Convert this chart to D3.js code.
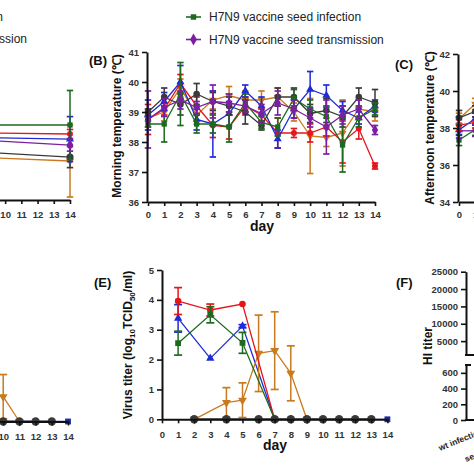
<!DOCTYPE html>
<html><head><meta charset="utf-8">
<script src="https://cdn.jsdelivr.net/npm/d3@7"></script>
<style>
html,body{margin:0;padding:0;background:#fff;}
svg{display:block;font-family:"Liberation Sans",Arial,sans-serif;}
</style></head><body>
<svg id="c" width="474" height="474"></svg>
<script>
// ---------- DATA ----------
const days = d3.range(0, 15);
const legendRight = ["H7N9 vaccine seed infection", "H7N9 vaccine seed transmission"];
const legendLeft = ["wt H7N9 infection", "wt H7N9 transmission"];
const yTicksB = [36, 37, 38, 39, 40, 41];
const yTicksC = [34, 36, 38, 40, 42];
const yTicksE = [0, 1, 2, 3, 4, 5];
const yTicksFTop = [5000, 10000, 15000, 20000, 25000];
const yTicksFBot = [0, 200, 400, 600];
const fCategories = ["wt infection", "seed infection"];

// Panel A (only days up to 14 visible)
const aDays = [7, 14];
const aGreen = [38.5, 38.5], aGreenSd = [0, 1.15];
const aRed = [38.25, 38.2], aRedSd = [0, 0.15];
const aBlue = [38.1, 38.03], aBlueSd = [0, 0.75];
const aPurple = [38.05, 37.83], aPurpleSd = [0, 0.2];
const aBlack = [37.65, 37.43], aBlackSd = [0, 0.35];
const aBrown = [37.46, 37.3], aBrownSd = [0, 1.2];

// Panel B morning temperature
const bBlack  = [39.0, 39.5, 39.25, 39.6, 39.35, 39.2, 39.0, 38.55, 39.5, 39.5, 38.95, 39.05, 38.85, 39.5, 39.3];
const bBlackSd= [0.1, 0.3, 0.35, 0.35, 0.3, 0.3, 0.4, 0.15, 0.3, 0.3, 0.3, 0.4, 0.35, 0.3, 0.45];
const bBlue   = [38.9, 39.35, 40.0, 38.75, 38.6, 38.95, 39.7, 39.2, 38.1, 39.1, 39.75, 39.55, 39.05, 38.8, 39.2];
const bBlueSd = [0.5, 0.3, 0.55, 0.35, 1.1, 0.4, 0.2, 0.3, 0.3, 0.3, 0.6, 0.35, 0.3, 0.2, 0.2];
const bRed    = [38.75, 39.1, 39.95, 39.2, 38.55, 38.5, 39.2, 38.9, 38.3, 38.3, 38.3, 38.5, 38.0, 38.45, 37.2];
const bRedSd  = [0.5, 0.2, 0.3, 0.3, 0.4, 0.4, 0.3, 0.2, 0.5, 0.15, 0.3, 0.3, 0.7, 0.35, 0.1];
const bGreen  = [38.6, 38.6, 39.6, 38.6, 38.6, 38.5, 39.3, 38.65, 38.5, 39.45, 39.1, 38.85, 37.9, 38.8, 39.1];
const bGreenSd= [0.1, 0.6, 1.05, 0.3, 0.3, 0.5, 0.3, 0.2, 0.3, 0.3, 0.3, 0.3, 0.9, 0.3, 0.2];
const bPurple = [38.75, 39.15, 39.4, 39.15, 39.35, 39.3, 39.2, 38.95, 39.3, 39.1, 38.8, 38.5, 38.9, 39.1, 38.4];
const bPurpleSd=[0.95, 0.3, 0.3, 0.2, 0.55, 0.3, 0.2, 0.3, 0.4, 0.3, 0.3, 0.9, 0.3, 0.3, 0.15];
const bBrown  = [38.8, 39.0, 39.8, 38.9, 39.4, 39.55, 39.4, 39.4, 39.5, 39.0, 38.2, 38.15, 38.3, 39.1, 39.0];
const bBrownSd= [0.3, 0.3, 0.3, 0.3, 0.3, 0.3, 0.3, 0.3, 0.3, 0.3, 1.25, 0.3, 1.1, 0.3, 0.3];

// Panel C afternoon temperature (only day 0 visible)
const cDays = [0, 1];
const cBlack = [38.55, 38.9], cBlackSd = [0.4, 0.3];
const cBrown = [38.5, 39.3], cBrownSd = [0.3, 0.3];
const cRed = [38.15, 38.3], cRedSd = [0.3, 0.3];
const cBlue = [37.9, 38.5], cBlueSd = [0.3, 0.3];
const cPurple = [37.85, 37.85], cPurpleSd = [0.4, 0.3];
const cGreen = [37.35, 37.9], cGreenSd = [0.3, 0.3];

// Panel D virus titer (left, only days 10-14 visible)
const dBrownDays = [10, 11], dBrown = [0.83, 0], dBrownSd = [0.74, 0];
const dBlackDays = [8, 9, 10, 11, 12, 13], dBlack = [0, 0, 0, 0, 0, 0];
const dBlueDays = [7, 14], dBlue = [0, 0];

// Panel E virus titer
const eRedDays = [1, 3, 5, 7], eRed = [3.96, 3.66, 3.86, 0], eRedSd = [0.45, 0.2, 0, 0];
const eBlueDays = [1, 3, 5, 7, 14], eBlue = [3.38, 2.04, 3.12, 0, 0], eBlueSd = [0.46, 0, 0.05, 0, 0];
const eGreenDays = [1, 3, 5, 7], eGreen = [2.55, 3.5, 2.56, 0], eGreenSd = [0.4, 0.27, 0.35, 0];
const eBrownDays = [2, 4, 5, 6, 7, 8, 9], eBrown = [0, 0.56, 0.64, 2.21, 2.3, 1.54, 0], eBrownSd = [0, 0.5, 0.58, 1.28, 1.3, 0.92, 0];
const eBlackDays = [2, 4, 6, 7, 8, 9, 10, 11, 12, 13], eBlack = [0, 0, 0, 0, 0, 0, 0, 0, 0, 0];

// ---------- STYLE ----------
const COL = {black:"#3a3a3a", blue:"#1f2bd8", red:"#e3161c", green:"#1d6a1f", purple:"#7b1ea2", brown:"#c97a1e", navy:"#1a2a9a"};
const SHAPE = {black:d3.symbolCircle, red:d3.symbolCircle, blue:d3.symbolTriangle, green:d3.symbolSquare, purple:d3.symbolDiamond, brown:"down", navy:d3.symbolSquare};

const svg = d3.select("#c");

function series(g, x, y, ds, vals, sds, key, opt={}) {
  const col = COL[key];
  const size = opt.size || 28, lw = opt.lw || 1.3, cap = opt.cap || 3.2;
  const gg = g.append("g");
  const pts = ds.map((d,i)=>({d, v: vals[i], s: sds ? sds[i] : 0}));
  pts.filter(p=>p.s>0).forEach(p=>{
    gg.append("line").attr("x1",x(p.d)).attr("x2",x(p.d)).attr("y1",y(p.v-p.s)).attr("y2",y(p.v+p.s))
      .attr("stroke",col).attr("stroke-width",1.5);
    [p.v-p.s,p.v+p.s].forEach(e=>gg.append("line").attr("x1",x(p.d)-cap).attr("x2",x(p.d)+cap)
      .attr("y1",y(e)).attr("y2",y(e)).attr("stroke",col).attr("stroke-width",1.7));
  });
  gg.append("path").datum(pts).attr("fill","none").attr("stroke",col).attr("stroke-width",lw)
    .attr("d", d3.line().x(p=>x(p.d)).y(p=>y(p.v)));
  if (opt.noMarker) return;
  const sh = SHAPE[key];
  pts.filter(p=>!(opt.markDays) || opt.markDays.includes(p.d)).forEach(p=>{
    const s = sh==="down" ? d3.symbolTriangle : sh;
    gg.append("path").attr("d", d3.symbol(s, size)())
      .attr("transform",`translate(${x(p.d)},${y(p.v)})${sh==="down"?" rotate(180)":""}`)
      .attr("fill",col);
  });
}

function styleAxis(g) {
  g.select(".domain").attr("stroke","#111").attr("stroke-width",2);
  g.selectAll(".tick line").attr("stroke","#111").attr("stroke-width",1.6);
  g.selectAll(".tick text").attr("fill","#333").attr("font-weight","bold").attr("font-size","9.5px")
    .attr("font-family","'Liberation Sans',Arial,sans-serif");
}
function xAxis(x, yPos, pad) {
  const g = svg.append("g").attr("transform",`translate(0,${yPos})`)
    .call(d3.axisBottom(x).tickValues(days).tickSize(4).tickSizeOuter(0).tickPadding(pad||5));
  styleAxis(g); return g;
}
function yAxis(y, xPos, ticks, fmt) {
  const g = svg.append("g").attr("transform",`translate(${xPos},0)`)
    .call(d3.axisLeft(y).tickValues(ticks).tickSize(5).tickSizeOuter(0).tickPadding(3).tickFormat(fmt||d3.format("d")));
  styleAxis(g); return g;
}
function yTitle(txt, cx, cy, size) {
  return svg.append("text").attr("transform",`translate(${cx},${cy}) rotate(-90)`)
    .attr("text-anchor","middle").attr("font-weight","bold").attr("font-size",(size||12)+"px")
    .attr("fill","#111").text(txt);
}
function panelLabel(txt, x, y) {
  svg.append("text").attr("x",x).attr("y",y).attr("font-weight","bold").attr("font-size","13px")
    .attr("fill","#111").text(txt);
}

// ---------- LEGEND ----------
legendLeft.forEach((t,i)=>{
  svg.append("text").attr("x", i===0 ? 3 : 27).attr("y", 21 + i*22).attr("text-anchor","end")
    .attr("font-size","12px").attr("fill","#222").text(t);
});
const legKeys = ["green","purple"];
legendRight.forEach((t,i)=>{
  const yy = 17 + i*22.5;
  svg.append("line").attr("x1",186).attr("x2",201).attr("y1",yy).attr("y2",yy)
    .attr("stroke",COL[legKeys[i]]).attr("stroke-width",1.6);
  svg.append("path").attr("d", d3.symbol(SHAPE[legKeys[i]], legKeys[i]==="purple"?40:30)())
    .attr("transform",`translate(193.5,${yy})`).attr("fill",COL[legKeys[i]]);
  svg.append("text").attr("x",209).attr("y",yy+4.3).attr("font-size","12px").attr("fill","#222").text(t);
});

// ---------- PANEL A ----------
{
  const x = d3.scaleLinear([0,14],[-157,70]);
  const y = d3.scaleLinear([36,41],[200,50]);
  xAxis(x, 200, 7);
  series(svg, x, y, aDays, aBrown, aBrownSd, "brown", {markDays:[14]});
  series(svg, x, y, aDays, aBlack, aBlackSd, "black", {markDays:[14], size:40});
  series(svg, x, y, aDays, aRed, aRedSd, "red", {markDays:[14]});
  series(svg, x, y, aDays, aBlue, aBlueSd, "blue", {markDays:[14]});
  series(svg, x, y, aDays, aGreen, aGreenSd, "green", {markDays:[14]});
  series(svg, x, y, aDays, aPurple, aPurpleSd, "purple", {markDays:[14], size:40});
}

// ---------- PANEL B ----------
{
  const x = d3.scaleLinear([0,14],[148,375]);
  const y = d3.scaleLinear([36,41],[202,52]);
  series(svg, x, y, days, bBrown, bBrownSd, "brown");
  series(svg, x, y, days, bRed, bRedSd, "red");
  series(svg, x, y, days, bBlue, bBlueSd, "blue");
  series(svg, x, y, days, bBlack, bBlackSd, "black", {size:34});
  series(svg, x, y, days, bGreen, bGreenSd, "green");
  series(svg, x, y, days, bPurple, bPurpleSd, "purple", {size:34});
  xAxis(x, 202, 5);
  svg.append("line").attr("x1",147).attr("x2",148).attr("y1",202).attr("y2",202).attr("stroke","#111").attr("stroke-width",2);
  yAxis(y, 147, yTicksB);
  svg.append("text").attr("x",262).attr("y",231).attr("text-anchor","middle").attr("font-weight","bold")
    .attr("font-size","14px").attr("fill","#111").text("day");
  yTitle("Morning temperature (℃)", 121, 126, 12);
  panelLabel("(B)", 89, 65);
}

// ---------- PANEL C ----------
{
  const x = d3.scaleLinear([0,14],[459, 459+14*16.2]);
  const y = d3.scaleLinear([34,42],[202,54]);
  series(svg, x, y, cDays, cGreen, cGreenSd, "green");
  series(svg, x, y, cDays, cPurple, cPurpleSd, "purple");
  series(svg, x, y, cDays, cBlue, cBlueSd, "blue");
  series(svg, x, y, cDays, cRed, cRedSd, "red");
  series(svg, x, y, cDays, cBrown, cBrownSd, "brown");
  series(svg, x, y, cDays, cBlack, cBlackSd, "black", {size:34});
  xAxis(x, 202, 5);
  yAxis(y, 458, yTicksC);
  yTitle("Afternoon temperature (℃)", 434, 128, 12);
  panelLabel("(C)", 395, 69);
}

// ---------- PANEL D ----------
{
  const x = d3.scaleLinear([0,14],[68-14*16.2, 68]);
  const y = d3.scaleLinear([0,5],[421.5, 272]);
  series(svg, x, y, dBrownDays, dBrown, dBrownSd, "brown", {size:34, cap:4});
  series(svg, x, y, dBlueDays, dBlue, null, "navy", {size:34});
  series(svg, x, y, dBlackDays, dBlack, null, "black", {size:55, lw:2});
  xAxis(x, 421.5, 8);
}

// ---------- PANEL E ----------
{
  const x = d3.scaleLinear([0,14],[162, 162+14*16.1]);
  const y = d3.scaleLinear([0,5],[419.3, 270]);
  series(svg, x, y, eBlueDays, eBlue, eBlueSd, "blue", {size:30, cap:4, markDays:[1,3,5,7]});
  series(svg, x, y, [14], [0], null, "navy", {size:34});
  series(svg, x, y, eBrownDays, eBrown, eBrownSd, "brown", {size:34, cap:4});
  series(svg, x, y, eRedDays, eRed, eRedSd, "red", {size:34, cap:4});
  series(svg, x, y, eGreenDays, eGreen, eGreenSd, "green", {size:34, cap:4});
  series(svg, x, y, eBlackDays, eBlack, null, "black", {size:55, lw:2});
  xAxis(x, 419.3, 8);
  yAxis(y, 162, yTicksE);
  svg.append("text").attr("x",275).attr("y",450).attr("text-anchor","middle").attr("font-weight","bold")
    .attr("font-size","14px").attr("fill","#111").text("day");
  const t = svg.append("text").attr("transform","translate(132,345) rotate(-90)")
    .attr("text-anchor","middle").attr("font-weight","bold").attr("font-size","12px").attr("fill","#111");
  t.append("tspan").text("Virus titer (log");
  t.append("tspan").attr("font-size","8px").attr("dy",3).text("10");
  t.append("tspan").attr("dy",-3).text("TCID");
  t.append("tspan").attr("font-size","8px").attr("dy",3).text("50");
  t.append("tspan").attr("dy",-3).text("/ml)");
  panelLabel("(E)", 94, 287);
}

// ---------- PANEL F ----------
{
  const yTop = d3.scaleLinear([1000,25000],[355,271.7]);
  const yBot = d3.scaleLinear([0,700],[420,365]);
  const fmt = d3.format("d");
  yAxis(yTop, 466, yTicksFTop, fmt);
  yAxis(yBot, 466, yTicksFBot, fmt);
  svg.append("line").attr("x1",465).attr("x2",474).attr("y1",355).attr("y2",355).attr("stroke","#111").attr("stroke-width",2);
  svg.append("line").attr("x1",465).attr("x2",471).attr("y1",365).attr("y2",365).attr("stroke","#111").attr("stroke-width",2);
  svg.append("line").attr("x1",465).attr("x2",474).attr("y1",420).attr("y2",420).attr("stroke","#111").attr("stroke-width",2);
  yTitle("HI titer", 432, 346, 12);
  panelLabel("(F)", 396, 287);
  const starts = [[440,451],[466,462]];
  fCategories.forEach((c,i)=>{
    svg.append("text").attr("transform",`translate(${starts[i][0]},${starts[i][1]}) rotate(-22)`)
      .attr("font-size","8.5px").attr("font-weight","bold").attr("fill","#222").text(c);
  });
}
</script>
</body></html>
